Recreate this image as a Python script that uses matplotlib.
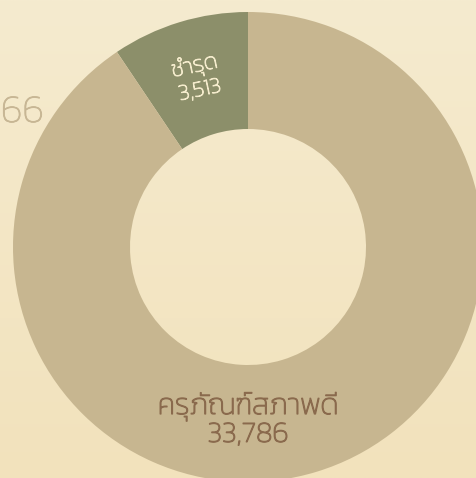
import matplotlib
matplotlib.use("Agg")
import numpy as np
import matplotlib.pyplot as plt
import matplotlib.patheffects as pe
from matplotlib.colors import LinearSegmentedColormap

# ข้อมูล
labels = ["ชำรุด", "ครุภัณฑ์สภาพดี"]
values = [3513, 33786]
colors = ["#8c8f6a", "#c7b690"]
text_colors = ["#f4ebcc", "#8a6a4d"]
side_text = "66"
side_color = "#c7b694"

plt.rcParams["font.family"] = ["Kanit", "DejaVu Sans"]

W, H = 476, 478
fig = plt.figure(figsize=(W / 100, H / 100), dpi=100)
ax = fig.add_axes([0, 0, 1, 1])

# พื้นหลังไล่สี
bg = LinearSegmentedColormap.from_list("bg", ["#f2e2bc", "#f5ebcf"])
grad = np.linspace(0, 1, 256).reshape(-1, 1)
ax.imshow(grad, cmap=bg, extent=[0, W, 0, H], origin="lower", aspect="auto", zorder=0)

cx, cy = 248, H - 247
r_out, r_in = 235, 118
wedges, _ = ax.pie(values, colors=colors, startangle=90, counterclock=True,
                   center=(cx, cy), radius=r_out, frame=True,
                   wedgeprops=dict(width=r_out - r_in, linewidth=0))
for w in wedges:
    w.set_zorder(2)
ax.set_xlim(0, W)
ax.set_ylim(0, H)
ax.set_aspect("equal")
ax.axis("off")


def thick(c, lw=0.7):
    # ทำให้ตัวอักษรบางหนาขึ้นเล็กน้อย
    return [pe.withStroke(linewidth=lw, foreground=c)]


# ป้ายกำกับ
ang = np.deg2rad(90 + 360 * values[0] / sum(values) / 2)
rr = 175
ax.text(cx + rr * np.cos(ang), cy + rr * np.sin(ang) + 2,
        f"{labels[0]}\n{values[0]:,}", ha="center", va="center",
        fontsize=16, weight="light", color=text_colors[0], rotation=12,
        linespacing=1.3, zorder=3, path_effects=thick(text_colors[0]))
ax.text(cx, H - 420, f"{labels[1]}\n{values[1]:,}", ha="center", va="center",
        fontsize=21, weight="light", color=text_colors[1],
        linespacing=1.05, zorder=3, path_effects=thick(text_colors[1], 0.9))

ax.text(1, H - 113, side_text, ha="left", va="center", fontsize=28,
        weight="light", color=side_color, zorder=1,
        path_effects=thick(side_color, 0.6))

fig.savefig("out.png", dpi=100)
